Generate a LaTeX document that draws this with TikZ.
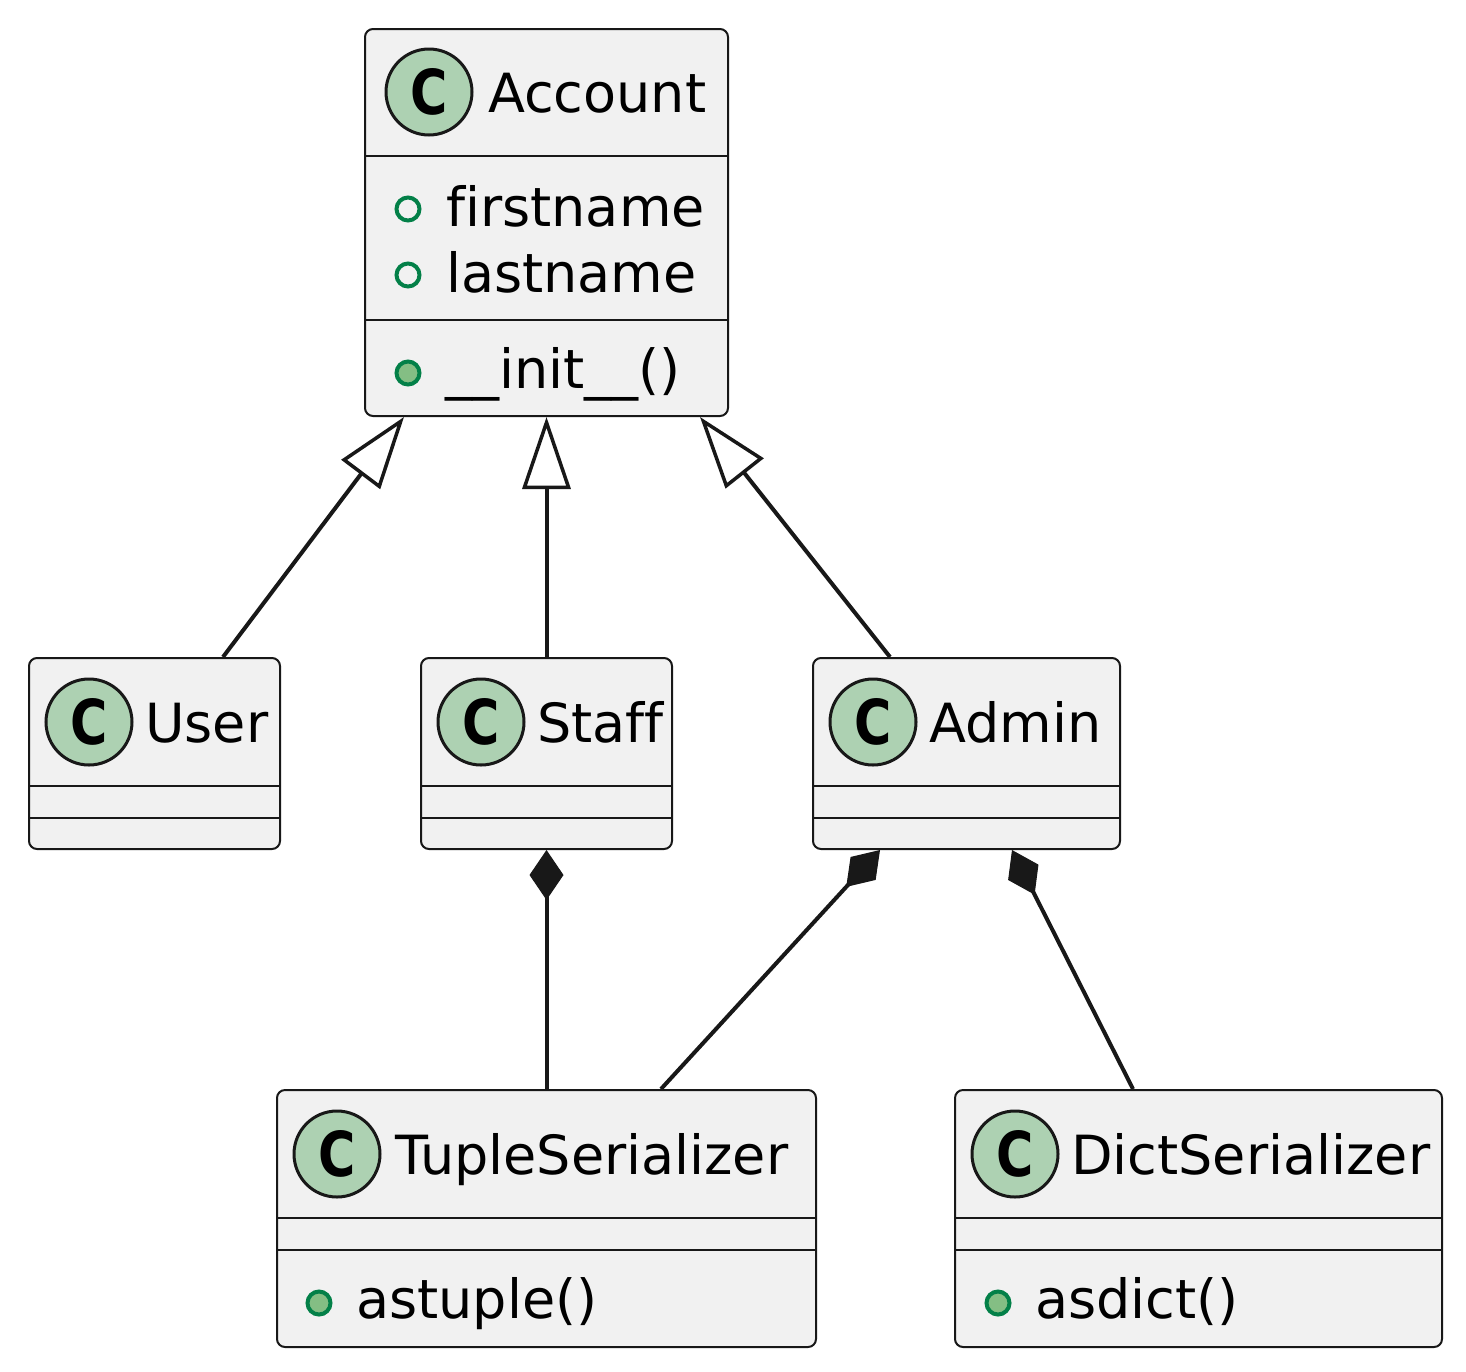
\documentclass[tikz,border=0pt]{standalone}
\usepackage{fontspec}
\usepackage{graphicx}
\setmainfont[Ligatures={NoCommon}]{DejaVu Sans}
\usetikzlibrary{arrows.meta}
\definecolor{ln}{HTML}{181818}
\definecolor{bg}{HTML}{F1F1F1}
\definecolor{cc}{HTML}{ADD1B2}
\definecolor{vg}{HTML}{038048}
\definecolor{vf}{HTML}{84BE84}
\tikzset{
 cls/.style={draw=ln, fill=bg, line width=2pt, rounded corners=8pt, inner sep=0pt},
 cbadge/.style={circle, draw=ln, fill=cc, line width=3pt, minimum size=86pt, inner sep=0pt, font=\fontsize{62}{62}\selectfont\bfseries},
 clstitle/.style={anchor=base west, inner sep=0pt, font=\fontsize{54}{54}\selectfont},
 member/.style={anchor=base west, inner sep=0pt, font=\fontsize{54}{54}\selectfont},
 pubattr/.style={circle, draw=vg, fill=none, line width=4pt, minimum size=23pt, inner sep=0pt},
 pubmeth/.style={circle, draw=vg, fill=vf, line width=4pt, minimum size=23pt, inner sep=0pt},
 sepline/.style={draw=ln, line width=2pt},
 ext/.style={draw=ln, line width=4pt, -{Triangle[length=72pt,width=48pt,fill=white,line width=3.5pt]}},
 comp/.style={draw=ln, line width=4pt, {Diamond[length=50pt,width=34pt,fill=ln,line width=1pt]}-},
}
\newcommand{\cbadgetext}{\scalebox{0.82}[1]{C}}
\begin{document}
\begin{tikzpicture}[x=1pt,y=-1pt]
\useasboundingbox[fill=white] (0,0) rectangle (1466,1371);

% Account
\node[cls, minimum width=363pt, minimum height=387pt] (account) at (546.5,222.5) {};
\node[cbadge] (accountC) at (429,92) {\cbadgetext};
\node[clstitle] (accountT) at (488,112) {Account};
\draw[sepline] (account.west |- 0,156) -- (account.east |- 0,156);
\node[pubattr] (a1m) at (408,209) {};
\node[member] (a1) at (446,226) {firstname};
\node[pubattr] (a2m) at (408,275) {};
\node[member] (a2) at (446,292) {lastname};
\draw[sepline] (account.west |- 0,320) -- (account.east |- 0,320);
\node[pubmeth] (a3m) at (408,373) {};
\node[member] (a3) at (445,388) {\_\_init\_\_()};

% User
\node[cls, minimum width=251pt, minimum height=191pt] (user) at (154.5,753.5) {};
\node[cbadge] (userC) at (89,722) {\cbadgetext};
\node[clstitle] (userT) at (145,742) {User};
\draw[sepline] (user.west |- 0,786) -- (user.east |- 0,786);
\draw[sepline] (user.west |- 0,818) -- (user.east |- 0,818);

% Staff
\node[cls, minimum width=251pt, minimum height=191pt] (staff) at (546.5,753.5) {};
\node[cbadge] (staffC) at (481,722) {\cbadgetext};
\node[clstitle] (staffT) at (537,742) {Staff};
\draw[sepline] (staff.west |- 0,786) -- (staff.east |- 0,786);
\draw[sepline] (staff.west |- 0,818) -- (staff.east |- 0,818);

% Admin
\node[cls, minimum width=307pt, minimum height=191pt] (admin) at (966.5,753.5) {};
\node[cbadge] (adminC) at (873,722) {\cbadgetext};
\node[clstitle] (adminT) at (929,742) {Admin};
\draw[sepline] (admin.west |- 0,786) -- (admin.east |- 0,786);
\draw[sepline] (admin.west |- 0,818) -- (admin.east |- 0,818);

% TupleSerializer
\node[cls, minimum width=539pt, minimum height=257pt] (tuple) at (546.5,1218.5) {};
\node[cbadge] (tupleC) at (337,1154) {\cbadgetext};
\node[clstitle] (tupleT) at (395,1174) {TupleSerializer};
\draw[sepline] (tuple.west |- 0,1218) -- (tuple.east |- 0,1218);
\draw[sepline] (tuple.west |- 0,1250) -- (tuple.east |- 0,1250);
\node[pubmeth] (t1m) at (319,1303) {};
\node[member] (t1) at (356,1318) {astuple()};

% DictSerializer
\node[cls, minimum width=487pt, minimum height=257pt] (dict) at (1198.5,1218.5) {};
\node[cbadge] (dictC) at (1015,1154) {\cbadgetext};
\node[clstitle] (dictT) at (1071,1174) {DictSerializer};
\draw[sepline] (dict.west |- 0,1218) -- (dict.east |- 0,1218);
\draw[sepline] (dict.west |- 0,1250) -- (dict.east |- 0,1250);
\node[pubmeth] (d1m) at (998,1303) {};
\node[member] (d1) at (1035,1318) {asdict()};

% Generalizations
\draw[ext] ([xshift=68.5pt]user.north) -- ([xshift=-142.5pt]account.south);
\draw[ext] (staff.north) -- (account.south);
\draw[ext] ([xshift=-76.5pt]admin.north) -- ([xshift=153.5pt]account.south);

% Compositions
\draw[comp] (staff.south) -- (tuple.north);
\draw[comp] ([xshift=-86.5pt]admin.south) -- ([xshift=114.5pt]tuple.north);
\draw[comp] ([xshift=45.5pt]admin.south) -- ([xshift=-65.5pt]dict.north);
\end{tikzpicture}
\end{document}
